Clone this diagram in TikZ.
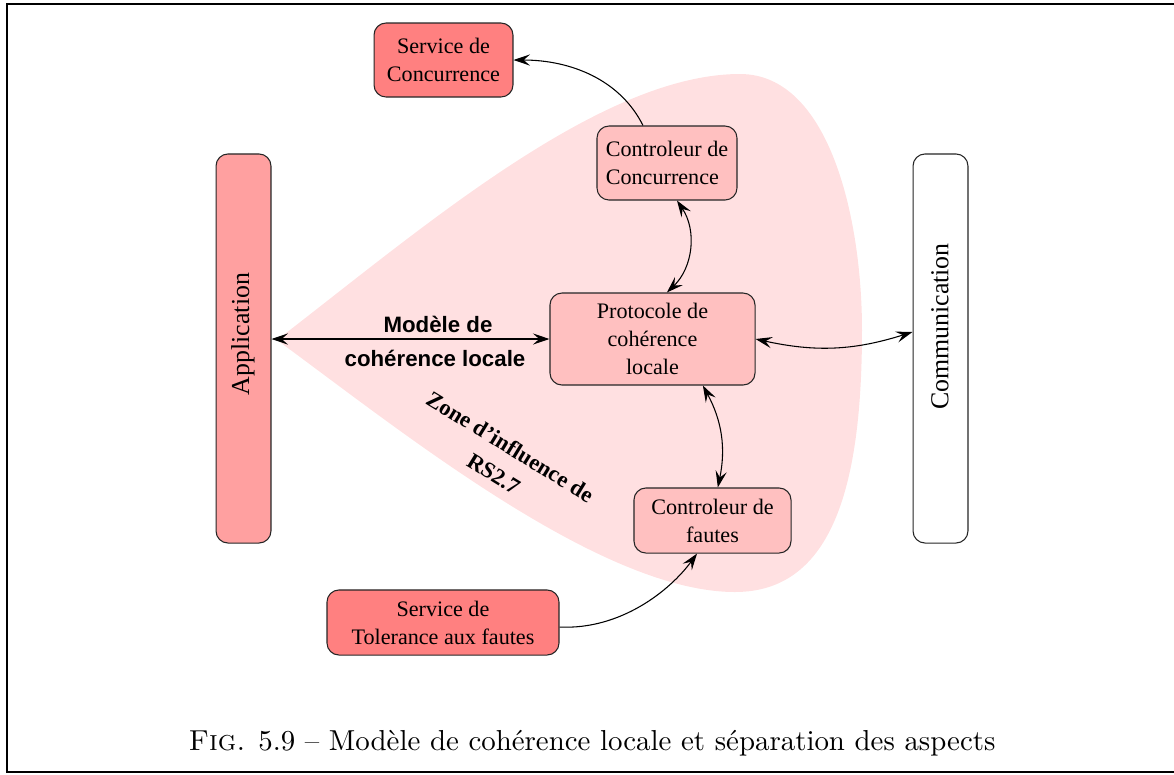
\documentclass[tikz,border=0pt]{standalone}
\usepackage{fontspec}
\newfontfamily\tnr{Liberation Serif}
\newfontfamily\lsans{Liberation Sans}
\usetikzlibrary{arrows.meta}
\definecolor{svcred}{RGB}{255,128,128}
\definecolor{appcol}{RGB}{255,160,160}
\definecolor{ctlpink}{RGB}{255,192,192}
\definecolor{zonecol}{RGB}{255,224,225}
\tikzset{
  box/.style={draw=black!85, line width=0.4pt, rounded corners=4.5pt, inner sep=0pt, align=center,
    font=\tnr\fontsize{8.3}{10.5}\selectfont},
  svc/.style={box, fill=svcred},
  ctl/.style={box, fill=ctlpink},
  bigtxt/.style={rotate=90, inner sep=0pt, font=\tnr\fontsize{9.7}{12}\selectfont},
  lbl/.style={inner sep=0pt, font=\lsans\bfseries\fontsize{8.35}{10}\selectfont},
  zonetxt/.style={inner sep=0pt, align=center, font=\tnr\bfseries\fontsize{8.5}{11.8}\selectfont},
  tip/.tip={Stealth[length=6.2pt,width=4.2pt,inset=2.4pt]},
  conn/.style={line width=0.4pt},
}
\begin{document}
\begin{tikzpicture}[x=0.375pt,y=-0.375pt]
\useasboundingbox (0,0) rectangle (1174,774);
% zone of influence
\fill[zonecol] (277,340) .. controls (420,230) and (600,74) .. (740,74)
  .. controls (830,74) and (862,220) .. (862,330)
  .. controls (862,480) and (835,592) .. (735,592)
  .. controls (600,592) and (400,430) .. (277,340) -- cycle;
% frame
\draw[line width=0.75pt] (1180,4) -- (7,4) -- (7,772) -- (1180,772);
% nodes
\node[svc, minimum width=52.1pt, minimum height=27.75pt] (sc) at (443.5,60) {Service de\\Concurrence};
\node[ctl, align=left, minimum width=52.5pt, minimum height=27.75pt] (cc) at (667,163) {Controleur de\\Concurrence};
\node[box, fill=appcol, minimum width=20.6pt, minimum height=145.9pt] (app) at (243.5,348.5) {};
\node[bigtxt] (apptxt) at (243,334) {Application};
\node[box, fill=white, minimum width=20.6pt, minimum height=145.9pt] (com) at (940.5,348.5) {};
\node[bigtxt] (comtxt) at (940,326.5) {Communication};
\node[ctl, minimum width=76.9pt, minimum height=34.5pt] (pcl) at (652.5,339) {Protocole de\\cohérence\\locale};
\node[ctl, minimum width=58.9pt, minimum height=24.4pt] (cf) at (712.5,520.5) {Controleur de\\fautes};
\node[svc, minimum width=87pt, minimum height=24.4pt] (st) at (443,622.5) {Service de\\Tolerance aux fautes};
% labels
\node[lbl] (m1) at (438,324) {Modèle de};
\node[lbl] (m2) at (435,358) {cohérence locale};
\node[zonetxt, rotate=-31.5] (zt) at (502,460) {Zone d’influence de\\RS2.7};
% connectors
\draw[conn, -tip] ([xshift=-9pt]cc.north) .. controls +(-23,-46) and +(57,0) .. (sc.east);
\draw[conn, tip-tip] ([xshift=3.75pt]cc.south) to[bend left=40] ([xshift=5.4pt]pcl.north);
\draw[conn, tip-tip] ([xshift=18.9pt]pcl.south) to[bend left=20] ([xshift=2pt]cf.north);
\draw[conn, tip-tip] (pcl.east) to[bend right=15] ([yshift=6.2pt]com.west);
\draw[conn, tip-tip] (app.east |- pcl.west) -- (pcl.west);
\draw[conn, -tip] ([yshift=-1.7pt]st.east) .. controls +(61,3) and +(-27,37) .. ([xshift=-5.8pt]cf.south);
% caption
\node[inner sep=0pt, font=\fontsize{10.83}{13}\selectfont] (cap) at (592,743) {\textsc{Fig.} 5.9 -- Modèle de cohérence locale et séparation des aspects};
\end{tikzpicture}
\end{document}
